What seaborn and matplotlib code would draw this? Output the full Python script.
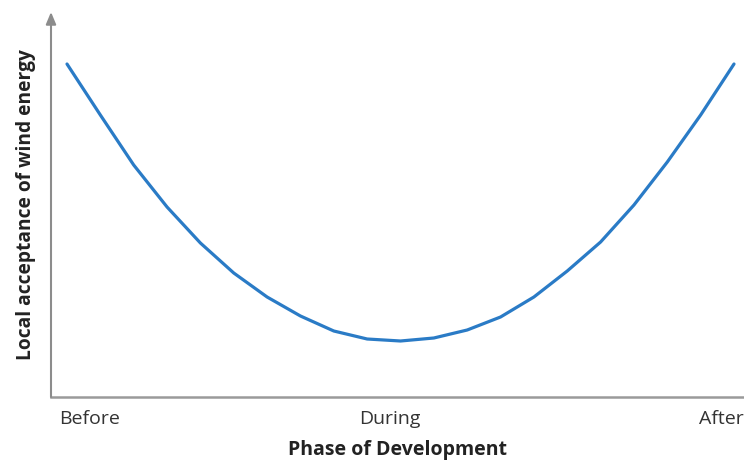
import matplotlib
matplotlib.use("Agg")
import matplotlib.pyplot as plt
import seaborn as sns
import pandas as pd

phase_index = list(range(21))
acceptance = [333, 282, 232, 190, 154, 124, 100, 81, 66, 58, 56, 59, 67, 80, 100, 126, 155, 192, 235, 282, 333]
tick_labels = ["Before", "During", "After"]
tick_positions = [0.69, 9.69, 19.62]

sns.set_theme(style="white")
plt.rcParams['font.family'] = ['Open Sans', 'DejaVu Sans']

W, H = 744, 463
fig = plt.figure(figsize=(W/100, H/100), dpi=100)
left, right, top, bottom = 51, 744, 12, 397
ax = fig.add_axes([left/W, (H-bottom)/H, (right-left)/W, (bottom-top)/H])

df = pd.DataFrame({"phase": phase_index, "acceptance": acceptance})
sns.lineplot(data=df, x="phase", y="acceptance", ax=ax, color="#2a7bc6", linewidth=2.3)

ppu = (734-67)/20
ax.set_xlim(-(67-51)/ppu, 20 + (744-734)/ppu)
ax.set_ylim(0, 385)

for s in ["top", "right", "left"]:
    ax.spines[s].set_visible(False)
ax.spines["bottom"].set_color("#9a9a9a")
ax.spines["bottom"].set_linewidth(1.8)

ax.annotate("", xy=(0, 1.0), xytext=(0, 0), xycoords="axes fraction",
            arrowprops=dict(arrowstyle="-|>,head_length=0.6,head_width=0.25",
                            color="#8c8c8c", lw=1.5, shrinkA=0, shrinkB=0))

ax.set_yticks([])
ax.set_xticks(tick_positions)
ax.set_xticklabels(tick_labels, fontsize=14, color="#333333")
ax.tick_params(axis="x", length=0, pad=9)

ax.set_xlabel("Phase of Development", fontsize=14, fontweight="bold", color="#222222", labelpad=9)
ax.set_ylabel("Local acceptance of wind energy", fontsize=13.8, fontweight="bold", color="#222222", labelpad=11)

fig.savefig("out.png", dpi=100)
